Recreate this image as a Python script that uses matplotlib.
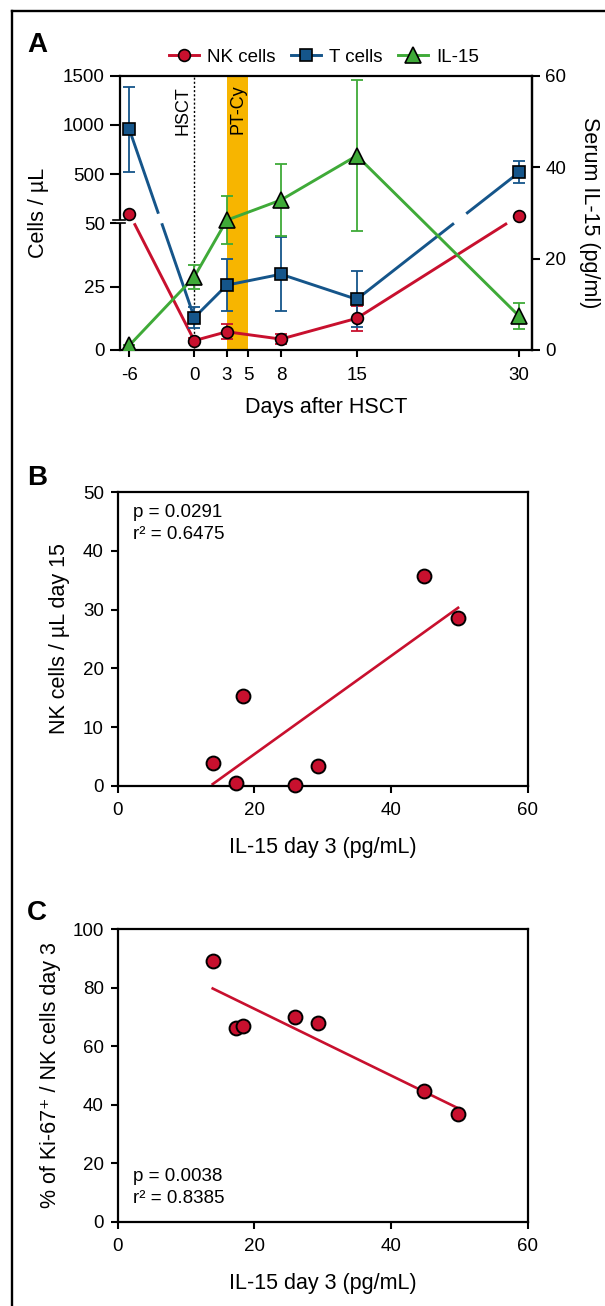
import numpy as np
import matplotlib
matplotlib.use('Agg')
import matplotlib.pyplot as plt
import matplotlib.transforms as mtransforms
from matplotlib.lines import Line2D
from matplotlib.patches import Rectangle

plt.rcParams['font.family'] = ['Liberation Sans', 'DejaVu Sans']

# ---- data ----
days = [-6, 0, 3, 8, 15, 30]
nk_cells = [100, 3.7, 7.2, 4.3, 12.5, 90]
nk_err = [0, 1.0, 3.0, 2.0, 5.0, 0]
t_cells = [956, 12.8, 25.6, 29.9, 20.0, 520]
t_err = [430, 4.0, 10.3, 14.5, 11.0, 110]
il15 = [1.0, 16.0, 28.4, 32.8, 42.5, 7.4]
il15_err = [0, 2.6, 5.2, 7.8, 16.5, 2.9]
day_ticks = [-6, 0, 3, 5, 8, 15, 30]
cell_ticks = [0, 25, 50, 500, 1000, 1500]
il15_ticks = [0, 20, 40, 60]

il15_day3 = [13.9, 17.3, 18.4, 26.0, 29.3, 44.8, 49.8]
nk_day15 = [3.9, 0.5, 15.3, 0.1, 3.35, 35.7, 28.6]
ki67_day3 = [89.2, 66.1, 67.0, 70.0, 68.1, 44.6, 36.7]

RED = '#C8102E'
BLUE = '#15558A'
GREEN = '#3FAA38'
ORANGE = '#F7B500'

TICK_FS = 13.5
LABEL_FS = 15.5

# broken left axis: 0-50 linear, gap 50-100, 100-1500 compressed
brk_vals = [0, 50, 100, 1500]
brk_pos = [0, 126.7, 136.3, 274.3]


def fwd(v):
    v = np.asarray(v, dtype=float)
    out = np.interp(v, brk_vals, brk_pos)
    out = np.where(v < 0, v * 126.7 / 50, out)
    out = np.where(v > 1500, 274.3 + (v - 1500) * 138 / 1400, out)
    return out


def inv(p):
    p = np.asarray(p, dtype=float)
    out = np.interp(p, brk_pos, brk_vals)
    out = np.where(p < 0, p * 50 / 126.7, out)
    out = np.where(p > 274.3, 1500 + (p - 274.3) * 1400 / 138, out)
    return out


def split_at_break(x, y):
    # drop the part of each segment that falls inside the axis break
    p = fwd(y)
    lo_p, hi_p = float(fwd(50)), float(fwd(100))
    xs, ys = [], []
    for i in range(len(x) - 1):
        x0, x1, p0, p1 = x[i], x[i + 1], p[i], p[i + 1]
        for a, b in ((-np.inf, lo_p), (hi_p, np.inf)):
            if p1 == p0:
                if a <= p0 <= b:
                    xs += [x0, x1, np.nan]
                    ys += [float(inv(p0)), float(inv(p1)), np.nan]
                continue
            ta = (a - p0) / (p1 - p0)
            tb = (b - p0) / (p1 - p0)
            t0, t1 = max(0.0, min(ta, tb)), min(1.0, max(ta, tb))
            if t1 > t0:
                xs += [x0 + t0 * (x1 - x0), x0 + t1 * (x1 - x0), np.nan]
                ys += [float(inv(p0 + t0 * (p1 - p0))),
                       float(inv(p0 + t1 * (p1 - p0))), np.nan]
    return xs, ys


fig = plt.figure(figsize=(6.05, 13.06), dpi=100)

# ---------------- panel A ----------------
ax = fig.add_axes([0.19835, 0.73201, 0.6802, 0.21003])
ax.set_yscale('function', functions=(fwd, inv))
ax.set_ylim(0, 1500)
ax.set_xlim(-6.86, 31.14)
ax.axvspan(3, 5, color=ORANGE, lw=0, zorder=0)
ax.axvline(0, color='k', lw=1.0, ls=(0, (1.5, 1.5)), zorder=1)

for vals, err, col, mk, ms in ((nk_cells, nk_err, RED, 'o', 8.5),
                               (t_cells, t_err, BLUE, 's', 8.2)):
    xs, ys = split_at_break(days, vals)
    ax.plot(xs, ys, color=col, lw=2.1, solid_capstyle='butt', zorder=2)
    ax.errorbar(days, vals, yerr=err, fmt='none', ecolor=col, elinewidth=1.3,
                capsize=4.5, capthick=1.3, zorder=2.5)
    ax.plot(days, vals, ls='none', marker=mk, ms=ms, mfc=col, mec='k',
            mew=1.2, zorder=3)

ax.set_xticks(day_ticks)
ax.set_xticklabels([str(d) for d in day_ticks])
ax.set_yticks(cell_ticks)
ax.set_yticklabels([str(t) for t in cell_ticks])
ax.yaxis.get_major_ticks()[2].tick1line.set_visible(False)
ax.tick_params(axis='y', direction='out', length=7, width=1.5, labelsize=TICK_FS, pad=4)
ax.tick_params(axis='x', direction='out', length=5, width=1.5, labelsize=TICK_FS, pad=7)
for s in ax.spines.values():
    s.set_linewidth(1.6)

# axis-break mark on the left spine
trans = mtransforms.blended_transform_factory(ax.transAxes, ax.transData)
ax.add_patch(Rectangle((-0.01, 50), 0.02, 17, transform=trans, facecolor='white',
                       edgecolor='none', clip_on=False, zorder=5))
for yv in (50, 67):
    ax.plot([-0.016, 0.012], [yv, yv], transform=trans, color='k', lw=1.2,
            clip_on=False, zorder=6)

tr_x = mtransforms.blended_transform_factory(ax.transData, ax.transAxes)
ax.text(-0.25, 0.962, 'HSCT', transform=tr_x, rotation=90, ha='right', va='top',
        fontsize=13)
ax.text(4, 0.968, 'PT-Cy', transform=tr_x, rotation=90, ha='center', va='top',
        fontsize=13)

ax.set_xlabel('Days after HSCT', fontsize=LABEL_FS)
ax.xaxis.set_label_coords(0.5, -0.21)
ax.xaxis.label.set_va('center')
ax.set_ylabel('Cells / µL', fontsize=LABEL_FS, va='center')
ax.yaxis.set_label_coords(-0.198, 0.5)

ax2 = ax.twinx()
ax2.set_ylim(0, 60)
ax2.plot(days, il15, color=GREEN, lw=2.1, zorder=2)
ax2.errorbar(days, il15, yerr=il15_err, fmt='none', ecolor=GREEN, elinewidth=1.3,
             capsize=4.5, capthick=1.3, zorder=2.5)
ax2.plot(days, il15, ls='none', marker='^', ms=11, mfc=GREEN, mec='k', mew=1.2,
         zorder=3)
ax2.set_yticks(il15_ticks)
ax2.tick_params(axis='y', direction='out', length=6, width=1.5, labelsize=TICK_FS, pad=4)
for name in ('left', 'top', 'bottom'):
    ax2.spines[name].set_visible(False)
ax2.spines['right'].set_linewidth(1.6)
ax2.set_ylabel('Serum IL-15 (pg/ml)', fontsize=LABEL_FS, rotation=270, va='center',
               ha='center')
ax2.yaxis.set_label_coords(1.141, 0.5)

handles = [
    Line2D([], [], color=RED, lw=2.1, marker='o', ms=8.5, mfc=RED, mec='k', mew=1.2),
    Line2D([], [], color=BLUE, lw=2.1, marker='s', ms=8.2, mfc=BLUE, mec='k', mew=1.2),
    Line2D([], [], color=GREEN, lw=2.1, marker='^', ms=11, mfc=GREEN, mec='k', mew=1.2),
]
fig.legend(handles, ['NK cells', 'T cells', 'IL-15'], loc='center',
           bbox_to_anchor=(324 / 605, 1 - 57 / 1306), ncol=3, frameon=False,
           fontsize=TICK_FS, handlelength=1.6, handletextpad=0.45, columnspacing=0.8,
           borderaxespad=0, borderpad=0)


# ---------------- panels B and C ----------------
def scatter_panel(rect, xv, yv, ymax, ystep, ylabel, ylab_x, ptxt, rtxt, ty):
    a = fig.add_axes(rect)
    k, b = np.polyfit(xv, yv, 1)
    xl = np.array([min(xv), max(xv)])
    a.plot(xl, k * xl + b, color=RED, lw=1.9, zorder=2)
    a.plot(xv, yv, ls='none', marker='o', ms=10, mfc=RED, mec='k', mew=1.4,
           zorder=3, clip_on=False)
    a.set_xlim(0, 60)
    a.set_ylim(0, ymax)
    a.set_xticks([0, 20, 40, 60])
    a.set_yticks(np.arange(0, ymax + 1, ystep))
    a.tick_params(axis='both', direction='out', length=5, width=1.5, labelsize=TICK_FS)
    a.tick_params(axis='x', pad=7)
    a.tick_params(axis='y', pad=5)
    for s in a.spines.values():
        s.set_linewidth(1.6)
    a.set_xlabel('IL-15 day 3 (pg/mL)', fontsize=LABEL_FS)
    a.xaxis.set_label_coords(0.5, -0.21)
    a.xaxis.label.set_va('center')
    a.set_ylabel(ylabel, fontsize=LABEL_FS, va='center')
    a.yaxis.set_label_coords(ylab_x, 0.5)
    a.text(0.037, ty[0], ptxt, transform=a.transAxes, fontsize=TICK_FS, va='baseline')
    a.text(0.037, ty[1], rtxt, transform=a.transAxes, fontsize=TICK_FS, va='baseline')
    return a


scatter_panel([0.19455, 0.39839, 0.67785, 0.22466], il15_day3, nk_day15, 50, 10,
              'NK cells / µL day 15', -0.143, 'p = 0.0291', 'r² = 0.6475',
              (0.915, 0.840))
scatter_panel([0.19455, 0.06455, 0.67785, 0.22389], il15_day3, ki67_day3, 100, 20,
              '% of Ki-67⁺ / NK cells day 3', -0.164, 'p = 0.0038', 'r² = 0.8385',
              (0.140, 0.063))

# panel letters and outer frame
for letter, ypx in (('A', 51.7), ('B', 485), ('C', 920)):
    fig.text(27 / 605, 1 - ypx / 1306, letter, fontsize=20, fontweight='bold',
             ha='left', va='baseline')
fig.add_artist(Line2D([12 / 605, 12 / 605], [0, 1 - 10.5 / 1306],
                      transform=fig.transFigure, color='k', lw=1.7))
fig.add_artist(Line2D([12 / 605, 1], [1 - 10.5 / 1306, 1 - 10.5 / 1306],
                      transform=fig.transFigure, color='k', lw=1.7))

fig.savefig('out.png', dpi=100)
